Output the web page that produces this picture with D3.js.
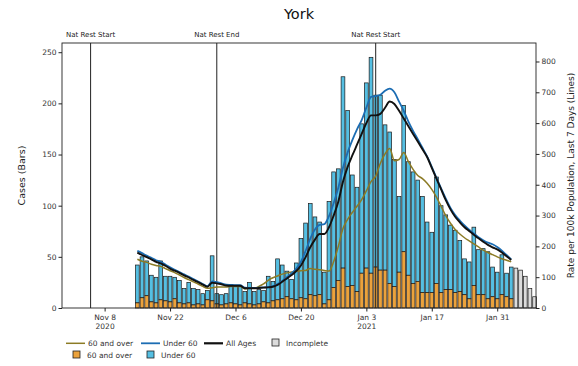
<!DOCTYPE html>
<html><head><meta charset="utf-8">
<script src="https://cdn.jsdelivr.net/npm/d3@7"></script>
<style>
html,body{margin:0;padding:0;background:#fff;}
text{font-family:"DejaVu Sans",sans-serif;}
</style></head>
<body><svg id="chart" width="578" height="366"></svg>
<script>
// ---------- data ----------
const firstDay = "2020-11-15";          // first bar
const lastDay  = "2021-02-08";          // last bar (inclusive)
const incompleteFrom = "2021-02-04";    // bars from this day on are incomplete

// total daily cases (bars), Nov 15 .. Feb 8
const totalCases = [
  42,50,46,32,30,46,31,31,30,27,19,25,19,18,14,17,
  51,14,13,14,21,21,21,16,25,16,18,17,31,26,48,42,36,28,44,68,83,102,89,84,35,104,133,136,226,193,130,
  118,180,220,245,208,208,179,172,145,109,198,143,133,125,109,84,74,128,100,91,81,76,66,48,45,79,57,58,55,40,35,
  52,34,40,39,37,31,19,11
];
// daily cases 60 and over (orange part), Nov 15 .. Feb 3 (complete days)
const over60Cases = [
  5,10,12,6,5,8,7,6,9,5,4,5,3,4,3,8,
  7,4,3,4,5,4,3,5,4,3,4,6,5,7,8,9,11,9,8,10,9,13,12,13,4,8,20,27,39,21,22,
  16,34,39,34,40,37,37,24,21,35,55,32,24,26,15,15,15,24,15,18,18,15,16,13,9,22,13,13,9,11,9,
  13,11,9
];
// rate per 100k, last 7 days (lines), Nov 15 .. Feb 3
const rateAll = [
  180,172,165,158,150,145,137,128,121,114,106,99,91,84,76,69,
  82,80,77,73,72,72,72,64,64,64,65,66,67,69,75,85,96,107,120,138,165,197,222,240,240,262,300,345,410,458,495,
  530,565,600,625,625,630,650,670,662,640,615,590,565,540,515,490,455,420,385,350,320,296,278,262,250,238,226,215,205,197,190,
  180,168,156
];
const rateUnder60 = [
  186,178,170,163,155,150,141,132,124,117,109,102,94,86,78,71,
  86,84,80,76,75,74,74,66,65,65,66,67,68,71,78,88,100,113,128,150,185,225,255,270,272,298,340,390,455,505,545,
  580,610,650,685,688,692,705,712,700,670,640,605,575,548,520,492,458,422,388,355,325,302,284,268,254,242,230,220,212,207,198,
  186,172,158
];
const rateOver60 = [
  158,152,148,142,138,135,128,121,115,107,99,92,85,78,70,64,
  66,68,68,68,70,70,70,62,64,64,70,78,90,98,104,110,114,117,119,121,122,128,126,124,122,120,150,200,258,288,310,
  330,352,380,410,428,470,500,518,478,482,505,475,450,430,420,405,385,360,330,300,275,255,240,228,218,208,198,188,180,173,166,
  160,155,150
];
const events = [
  {date:"2020-11-05", label:"Nat Rest Start"},
  {date:"2020-12-02", label:"Nat Rest End"},
  {date:"2021-01-05", label:"Nat Rest Start"}
];
const xTickDates = ["2020-11-08","2020-11-22","2020-12-06","2020-12-20","2021-01-03","2021-01-17","2021-01-31"];
const xTickLabels = [["Nov 8","2020"],["Nov 22"],["Dec 6"],["Dec 20"],["Jan 3","2021"],["Jan 17"],["Jan 31"]];
const leftTicks = [0,50,100,150,200,250];
const rightTicks = [0,100,200,300,400,500,600,700,800];

// ---------- layout ----------
const P = {l:62, r:536, t:43, b:308};
const colOrange = "#eba23c", colBlue = "#55bfe2", colInc = "#dcdcdc";
const colLAll = "#111111", colLU60 = "#1c6db3", colLO60 = "#8c7b25";
const parse = d3.utcParse("%Y-%m-%d");
const DAY = 864e5;
const days = d3.utcDay.range(parse(firstDay), d3.utcDay.offset(parse(lastDay),1));
const incDate = parse(incompleteFrom);
const ref = parse("2020-11-08");

const x = d3.scaleUtc()
  .domain([new Date(ref.getTime()-9.12*DAY), new Date(ref.getTime()+92.3*DAY)])
  .range([P.l, P.r]);
const yL = d3.scaleLinear().domain([0,259]).range([P.b,P.t]);
const yR = d3.scaleLinear().domain([0,860]).range([P.b,P.t]);

const svg = d3.select("#chart");
svg.append("rect").attr("width",578).attr("height",366).attr("fill","#fff");

const bw = 4.682*0.8;
const bars = svg.append("g").attr("stroke","#1a1a1a").attr("stroke-width",0.7);
days.forEach((d,i)=>{
  const cx = x(d);
  const tot = totalCases[i];
  if (d >= incDate) {
    bars.append("rect").attr("x",cx-bw/2).attr("width",bw)
      .attr("y",yL(tot)).attr("height",yL(0)-yL(tot)).attr("fill",colInc);
  } else {
    const o = over60Cases[i];
    bars.append("rect").attr("x",cx-bw/2).attr("width",bw)
      .attr("y",yL(tot)).attr("height",yL(o)-yL(tot)).attr("fill",colBlue);
    bars.append("rect").attr("x",cx-bw/2).attr("width",bw)
      .attr("y",yL(o)).attr("height",yL(0)-yL(o)).attr("fill",colOrange);
  }
});

// event lines
events.forEach(e=>{
  const ex = x(parse(e.date));
  svg.append("line").attr("x1",ex).attr("x2",ex).attr("y1",P.t).attr("y2",P.b)
    .attr("stroke","#222").attr("stroke-width",1);
  svg.append("text").attr("x",ex).attr("y",P.t-6).attr("text-anchor","middle")
    .attr("font-size",7).attr("fill","#222").text(e.label);
});

// rate lines
const lineDays = days.filter(d=>d < incDate);
const mk = (arr)=>d3.line().curve(d3.curveMonotoneX)
  .x((v,i)=>x(lineDays[i])).y(v=>yR(v))(arr);
svg.append("path").attr("d",mk(rateOver60)).attr("fill","none").attr("stroke",colLO60).attr("stroke-width",1.5);
svg.append("path").attr("d",mk(rateUnder60)).attr("fill","none").attr("stroke",colLU60).attr("stroke-width",1.8);
svg.append("path").attr("d",mk(rateAll)).attr("fill","none").attr("stroke",colLAll).attr("stroke-width",1.9);

// frame
svg.append("rect").attr("x",P.l).attr("y",P.t).attr("width",P.r-P.l).attr("height",P.b-P.t)
  .attr("fill","none").attr("stroke","#222").attr("stroke-width",0.9);

// axes
const gL = svg.append("g").attr("transform",`translate(${P.l},0)`)
  .call(d3.axisLeft(yL).tickValues(leftTicks).tickSize(3.5).tickPadding(2));
const gR = svg.append("g").attr("transform",`translate(${P.r},0)`)
  .call(d3.axisRight(yR).tickValues(rightTicks).tickSize(3.5).tickPadding(2));
const gX = svg.append("g").attr("transform",`translate(0,${P.b})`)
  .call(d3.axisBottom(x).tickValues(xTickDates.map(parse)).tickSize(3.5).tickPadding(3).tickFormat(()=>""));
[gL,gR,gX].forEach(g=>{
  g.select(".domain").remove();
  g.selectAll("line").attr("stroke","#222");
  g.selectAll("text").attr("font-size",7.5).attr("fill","#333").attr("font-family","DejaVu Sans");
});
gX.selectAll(".tick text").each(function(d,i){
  const t = d3.select(this);
  xTickLabels[i].forEach((s,j)=>{
    t.append("tspan").attr("x",0).attr("dy",j===0?"0.71em":"1.2em").text(s);
  });
});

// titles
svg.append("text").attr("x",(P.l+P.r)/2).attr("y",19).attr("text-anchor","middle")
  .attr("font-size",14.5).attr("fill","#111").text("York");
svg.append("text").attr("transform",`translate(25,${(P.t+P.b)/2}) rotate(-90)`)
  .attr("text-anchor","middle").attr("font-size",9.5).attr("fill","#222").text("Cases (Bars)");
svg.append("text").attr("transform",`translate(574,${(P.t+P.b)/2}) rotate(-90)`)
  .attr("text-anchor","middle").attr("font-size",9).attr("fill","#222")
  .text("Rate per 100k Population, Last 7 Days (Lines)");

// legend
const lg = svg.append("g").attr("font-size",7.5).attr("fill","#333");
const row1 = 346, row2 = 358;
[[66,colLO60,1.5,"60 and over"],[141,colLU60,1.8,"Under 60"],[204,colLAll,2.2,"All Ages"]].forEach(([lx,c,w,t])=>{
  lg.append("line").attr("x1",lx).attr("x2",lx+19).attr("y1",row1-2.7).attr("y2",row1-2.7)
    .attr("stroke",c).attr("stroke-width",w);
  lg.append("text").attr("x",lx+22).attr("y",row1).text(t);
});
[[272,row1,colInc,"Incomplete"],[73,row2,colOrange,"60 and over"],[147,row2,colBlue,"Under 60"]].forEach(([bx,by,c,t])=>{
  lg.append("rect").attr("x",bx).attr("y",by-7).attr("width",7).attr("height",7)
    .attr("fill",c).attr("stroke","#222").attr("stroke-width",0.8);
  lg.append("text").attr("x",bx+14).attr("y",by).text(t);
});
</script></body></html>
